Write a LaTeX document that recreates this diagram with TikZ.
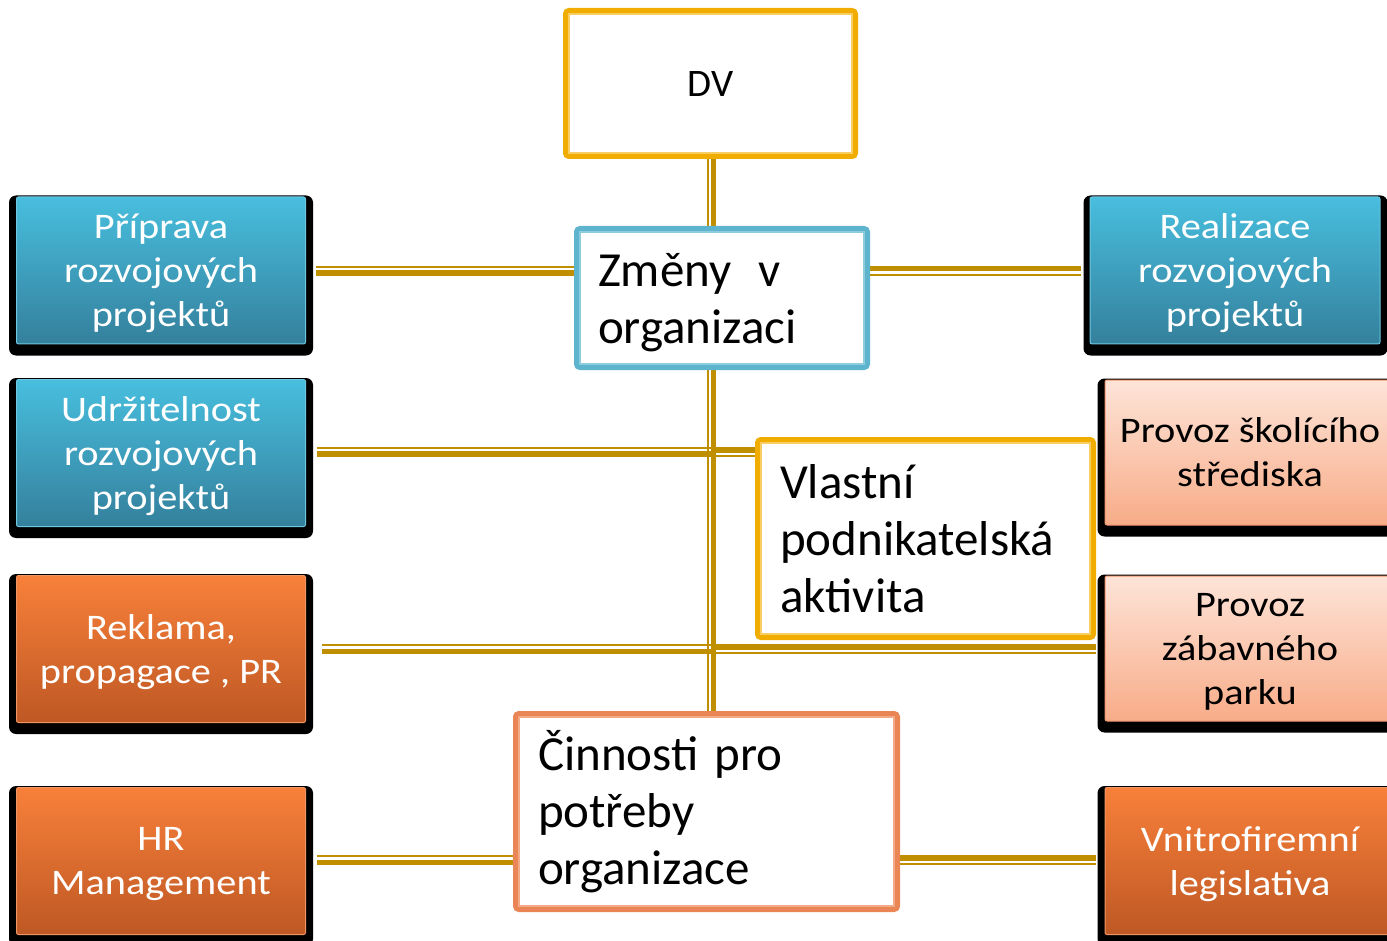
\documentclass[tikz,border=0pt]{standalone}
\usepackage{fontspec}
\setmainfont{Carlito}
\newfontfamily\sidefont[FakeStretch=1.12]{Carlito}
\usetikzlibrary{calc,backgrounds}
\definecolor{conngold}{RGB}{192,143,0}
\definecolor{dvgold}{RGB}{240,173,0}
\definecolor{dvpale}{RGB}{248,206,100}
\definecolor{zmblue}{RGB}{94,180,205}
\definecolor{zmpale}{RGB}{140,204,222}
\definecolor{ciorange}{RGB}{234,134,86}
\definecolor{cipale}{RGB}{242,170,135}
\definecolor{bltop}{RGB}{72,190,222}
\definecolor{blbot}{RGB}{52,128,156}
\definecolor{blline}{RGB}{110,200,225}
\definecolor{ortop}{RGB}{248,128,58}
\definecolor{orbot}{RGB}{190,88,36}
\definecolor{orline}{RGB}{240,150,100}
\definecolor{satop}{RGB}{253,228,216}
\definecolor{sabot}{RGB}{248,172,136}
\definecolor{saline}{RGB}{240,150,110}
\begin{document}
\begin{tikzpicture}[x=1pt,y=-1pt,
  framebox/.style={fill=white, line width=6, rounded corners=3, inner sep=0,
    font=\fontsize{49}{57}\selectfont, align=left, text=black},
  sidebox/.style={minimum width=289, minimum height=147, inner sep=0, rounded corners=2,
    line width=1, align=center, text depth=0pt, font=\sidefont\fontsize{36}{44}\selectfont},
  bluebox/.style={sidebox, top color=bltop, bottom color=blbot, draw=blline, text=white},
  orangebox/.style={sidebox, top color=ortop, bottom color=orbot, draw=orline, text=white},
  salmonbox/.style={sidebox, top color=satop, bottom color=sabot, draw=saline, text=black},
  shadowbox/.style={fill=black, rounded corners=7},
  thinln/.style={draw=conngold, line width=2},
  thickln/.style={draw=conngold, line width=5.5}
]
\useasboundingbox (0,0) rectangle (1387,941);

% central boxes
\node[framebox, draw=dvgold, minimum width=289, minimum height=145,
      font=\fontsize{39}{47}\selectfont] (dv) at (710.5,83.5) {DV};
\node[framebox, draw=zmblue, minimum width=290, minimum height=138,
      text width=248, inner xsep=21, text depth=57pt] (zm) at (722,298) {Změny\hspace{27pt}v\\organizaci};
\node[framebox, draw=dvgold, minimum width=335, minimum height=197,
      text width=291, inner xsep=22] (vl) at (925.5,538.5) {Vlastní\\podnikatelská\\aktivita};
\node[framebox, draw=ciorange, minimum width=381, minimum height=195,
      text width=337, inner xsep=22] (ci) at (706.5,811.5) {Činnosti pro\\potřeby\\organizace};

\draw[dvpale, line width=1.5] ($(dv.north west)+(6,6)$) rectangle ($(dv.south east)+(-6,-6)$);
\draw[zmpale, line width=1.5] ($(zm.north west)+(6,6)$) rectangle ($(zm.south east)+(-6,-6)$);
\draw[dvpale, line width=1.5] ($(vl.north west)+(6,6)$) rectangle ($(vl.south east)+(-6,-6)$);
\draw[cipale, line width=1.5] ($(ci.north west)+(6,6)$) rectangle ($(ci.south east)+(-6,-6)$);

% left boxes
\node[bluebox] (pr) at (161,270.5) {Příprava\\rozvojových\\projektů};
\node[bluebox] (ud) at (161,453) {Udržitelnost\\rozvojových\\projektů};
\node[orangebox] (rk) at (161,649) {Reklama,\\propagace , PR};
\node[orangebox] (hr) at (161,861) {HR\\Management};

% right boxes
\node[bluebox, minimum width=290] (re) at (1235,270.5) {Realizace\\rozvojových\\projektů};
\node[salmonbox, minimum width=290, minimum height=145] (ps) at (1250,452.5) {Provoz školícího\\střediska};
\node[salmonbox, minimum width=290, minimum height=145] (pz) at (1250,648.5) {Provoz\\zábavného\\parku};
\node[orangebox, minimum width=290] (vn) at (1250,861) {Vnitrofiremní\\legislativa};

% row / spine coordinates
\coordinate (spine) at (711,0);
\coordinate (Vt) at (708,0);
\coordinate (Vk) at (713.25,0);
\coordinate (LtA) at (0,267);    \coordinate (LkA) at (0,273.25);
\coordinate (RkA) at (0,268.75); \coordinate (RtA) at (0,275);
\coordinate (LtB) at (0,448);    \coordinate (LkB) at (0,453.75);
\coordinate (RkB) at (0,449.75); \coordinate (RtB) at (0,455.5);
\coordinate (LtC) at (0,645);    \coordinate (LkC) at (0,651.25);
\coordinate (RkC) at (0,646.75); \coordinate (RtC) at (0,653);
\coordinate (LtD) at (0,856);    \coordinate (LkD) at (0,862.25);
\coordinate (RkD) at (0,857.75); \coordinate (RtD) at (0,864);

\begin{scope}[on background layer]
  % shadows
  \foreach \n in {pr,ud,rk,hr}
    \fill[shadowbox] ($(\n.north west)+(-7,-1)$) rectangle ($(\n.south east)+(7,11)$);
  \fill[shadowbox] ($(re.north west)+(-6,-1)$) rectangle ($(re.south east)+(7,11)$);
  \foreach \n in {ps,pz,vn}
    \fill[shadowbox] ($(\n.north west)+(-7,-1)$) rectangle ($(\n.south east)+(7,11)$);

  % row 1
  \draw[thinln, shorten <=10] (LtA -| pr.east) -- (LtA -| zm.west);
  \draw[thickln, shorten <=10] (LkA -| pr.east) -- (LkA -| zm.west);
  \draw[thickln, shorten >=9] (RkA -| zm.east) -- (RkA -| re.west);
  \draw[thinln, shorten >=9] (RtA -| zm.east) -- (RtA -| re.west);
  % row 2
  \draw[thinln, shorten <=11] (LtB -| ud.east) -- (LtB -| spine);
  \draw[thickln, shorten <=11] (LkB -| ud.east) -- (LkB -| spine);
  \draw[thickln] (RkB -| spine) -- (RkB -| vl.west);
  \draw[thinln] (RtB -| spine) -- (RtB -| vl.west);
  % row 3
  \draw[thinln, shorten <=16] (LtC -| rk.east) -- (LtC -| spine);
  \draw[thickln, shorten <=16] (LkC -| rk.east) -- (LkC -| spine);
  \draw[thickln, shorten >=9] (RkC -| spine) -- (RkC -| pz.west);
  \draw[thinln, shorten >=9] (RtC -| spine) -- (RtC -| pz.west);
  % row 4
  \draw[thinln, shorten <=11] (LtD -| hr.east) -- (LtD -| ci.west);
  \draw[thickln, shorten <=11] (LkD -| hr.east) -- (LkD -| ci.west);
  \draw[thickln, shorten >=9] (RkD -| ci.east) -- (RkD -| vn.west);
  \draw[thinln, shorten >=9] (RtD -| ci.east) -- (RtD -| vn.west);
  % spine
  \draw[thinln] (Vt |- dv.south) -- (Vt |- zm.north);
  \draw[thickln] (Vk |- dv.south) -- (Vk |- zm.north);
  \draw[thinln] (Vt |- zm.south) -- (Vt |- ci.north);
  \draw[thickln] (Vk |- zm.south) -- (Vk |- ci.north);
\end{scope}
\end{tikzpicture}
\end{document}
